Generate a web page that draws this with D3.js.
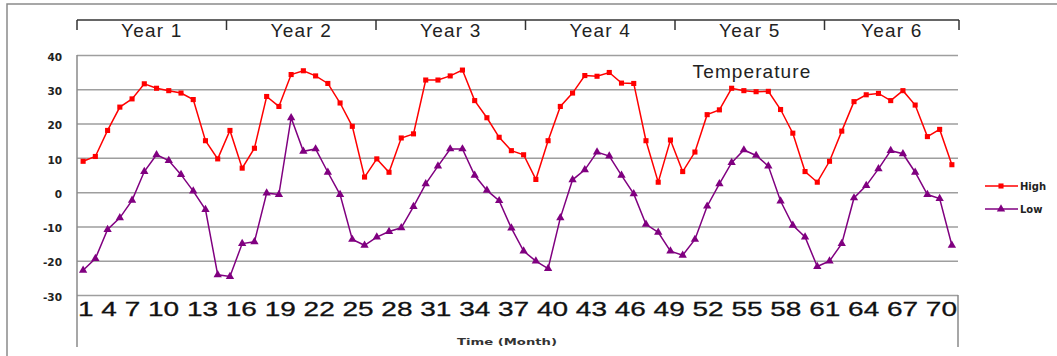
<!DOCTYPE html>
<html>
<head>
<meta charset="utf-8">
<script src="https://cdn.jsdelivr.net/npm/d3@7/dist/d3.min.js"></script>
<style>
    html, body { margin: 0; padding: 0; background: #fff; }
    svg { display: block; }
</style>
</head>
<body>
<svg id="chart" width="1057" height="356"></svg>
<script>
// monthly highs / lows (6 years x 12 months)
var high = [9.0, 10.4, 18.0, 24.8, 27.2, 31.6, 30.3, 29.6, 28.9, 27.0, 15.0, 9.7,
    18.0, 7.0, 12.8, 27.9, 25.0, 34.3, 35.4, 33.9, 31.7, 26.0, 19.2, 4.4,
    9.7, 5.8, 15.8, 17.0, 32.7, 32.7, 33.9, 35.6, 26.7, 21.7, 16.0, 12.1,
    10.9, 3.7, 15.0, 25.0, 28.9, 34.0, 33.8, 34.9, 31.8, 31.7, 15.0, 2.9,
    15.2, 6.0, 11.7, 22.6, 24.0, 30.3, 29.6, 29.3, 29.4, 24.1, 17.2, 6.0,
    2.9, 9.0, 17.8, 26.4, 28.4, 28.8, 26.7, 29.6, 25.4, 16.2, 18.3, 8.0];
var low = [-22.8, -19.4, -10.9, -7.5, -2.4, 6.0, 10.9, 9.2, 5.1, 0.3, -5.1, -24.1,
    -24.6, -15.0, -14.5, -0.3, -0.7, 21.7, 11.9, 12.6, 5.8, -0.7, -13.8, -15.5,
    -13.1, -11.5, -10.4, -4.2, 2.4, 7.6, 12.6, 12.6, 4.9, 0.5, -2.5, -10.5,
    -17.2, -20.1, -22.3, -7.5, 3.6, 6.5, 11.7, 10.5, 4.9, -0.5, -9.4, -11.7,
    -17.2, -18.4, -13.8, -4.1, 2.4, 8.6, 12.3, 10.7, 7.6, -2.6, -9.7, -13.1,
    -21.7, -20.1, -15.0, -1.7, 1.9, 6.8, 12.1, 11.2, 5.8, -0.7, -1.9, -15.5];
var years = ['Year 1', 'Year 2', 'Year 3', 'Year 4', 'Year 5', 'Year 6'];
var tickLabels = ['1', '4', '7', '10', '13', '16', '19', '22', '25', '28', '31', '34',
    '37', '40', '43', '46', '49', '52', '55', '58', '61', '64', '67', '70'];
var yTicks = [40, 30, 20, 10, 0, -10, -20, -30];
var seriesNames = ['High', 'Low'];

var months = high.map(function (d, i) { return i + 1; });

var svg = d3.select('#chart');
var plotLeft = 77, plotRight = 958, plotTop = 55, plotBottom = 295;
var sans = 'Liberation Sans, Arial, sans-serif';
var small = 'DejaVu Sans, Verdana, sans-serif';

var x = d3.scalePoint().domain(months).range([plotLeft, plotRight]).padding(0.5);
var y = d3.scaleLinear().domain([-30, 40]).range([plotBottom, plotTop]);
// header row is a little wider than the plot, last cell cut at the plot edge
var yearX = d3.scaleLinear().domain([0, years.length]).range([plotLeft, 974]);
function yearPos(i) { return Math.min(yearX(i), plotRight + 1); }

// outer frame
svg.append('path')
    .attr('d', 'M7,356V4H1057')
    .attr('fill', 'none')
    .attr('stroke', '#8a8a8a')
    .attr('stroke-width', 1.5);

// year header
svg.append('line')
    .attr('x1', plotLeft).attr('x2', plotRight + 1)
    .attr('y1', 20).attr('y2', 20)
    .attr('stroke', '#333').attr('stroke-width', 1.5);

svg.selectAll('.year-tick')
    .data(d3.range(years.length + 1))
    .enter().append('line')
    .attr('class', 'year-tick')
    .attr('x1', yearPos).attr('x2', yearPos)
    .attr('y1', 20).attr('y2', 30)
    .attr('stroke', '#333').attr('stroke-width', 1.5);

svg.selectAll('.year-label')
    .data(years)
    .enter().append('text')
    .attr('class', 'year-label')
    .attr('x', function (d, i) { return (yearPos(i) + yearPos(i + 1)) / 2; })
    .attr('y', 37)
    .attr('text-anchor', 'middle')
    .attr('font-family', sans)
    .attr('font-size', 19)
    .attr('letter-spacing', 1.2)
    .attr('fill', '#222')
    .text(function (d) { return d; });

// y axis + gridlines (plain hyphen for negatives, as in the original)
var yAxis = d3.axisLeft(y)
    .tickValues(yTicks)
    .tickFormat(function (d) { return String(d); })
    .tickSize(-(plotRight - plotLeft))
    .tickPadding(15);
var gy = svg.append('g').attr('transform', 'translate(' + plotLeft + ',0)').call(yAxis);
gy.select('.domain').remove();
gy.selectAll('.tick line').attr('stroke', '#9e9e9e').attr('stroke-width', 1.5);
gy.selectAll('.tick text')
    .attr('font-family', small)
    .attr('font-size', 10.5)
    .attr('font-weight', 'bold')
    .attr('fill', '#222')
    .attr('dy', '0.5em');

// plot frame pieces
svg.append('line')
    .attr('x1', plotLeft).attr('x2', plotLeft).attr('y1', plotTop).attr('y2', 347)
    .attr('stroke', '#8a8a8a').attr('stroke-width', 1.5);
svg.append('line')
    .attr('x1', plotRight).attr('x2', plotRight).attr('y1', plotBottom).attr('y2', 347)
    .attr('stroke', '#8a8a8a').attr('stroke-width', 1.5);

// category labels, stretched across the axis like the original
var xr = x.range();
svg.append('text')
    .attr('x', xr[0] + 1)
    .attr('y', 316)
    .attr('font-family', sans)
    .attr('font-size', 20)
    .attr('fill', '#111')
    .attr('stroke', '#111')
    .attr('stroke-width', 0.3)
    .attr('textLength', xr[1] - xr[0] - 2)
    .attr('lengthAdjust', 'spacingAndGlyphs')
    .text(tickLabels.join(' '));

svg.append('text')
    .attr('x', 457).attr('y', 345)
    .attr('font-family', small)
    .attr('font-size', 9)
    .attr('font-weight', 'bold')
    .attr('fill', '#333')
    .attr('textLength', 100)
    .attr('lengthAdjust', 'spacingAndGlyphs')
    .text('Time (Month)');

// title
svg.append('text')
    .attr('x', 752).attr('y', 78)
    .attr('text-anchor', 'middle')
    .attr('font-family', sans)
    .attr('font-size', 19)
    .attr('letter-spacing', 1.1)
    .attr('fill', '#222')
    .text('Temperature');

// series
var series = [
    {name: seriesNames[0], values: high, color: '#ff0000', symbol: d3.symbolSquare, size: 26},
    {name: seriesNames[1], values: low, color: '#800080', symbol: d3.symbolTriangle, size: 30}
];

var line = d3.line()
    .x(function (d, i) { return x(months[i]); })
    .y(function (d) { return y(d); });

series.forEach(function (s) {
    svg.append('path')
        .datum(s.values)
        .attr('fill', 'none')
        .attr('stroke', s.color)
        .attr('stroke-width', 1.5)
        .attr('d', line);

    svg.append('g').selectAll('path')
        .data(s.values)
        .enter().append('path')
        .attr('d', d3.symbol().type(s.symbol).size(s.size))
        .attr('transform', function (d, i) {
            return 'translate(' + x(months[i]) + ',' + y(d) + ')';
        })
        .attr('fill', s.color);
});

// legend
var legend = svg.append('g').attr('transform', 'translate(985,186)');
var item = legend.selectAll('g')
    .data(series)
    .enter().append('g')
    .attr('transform', function (d, i) { return 'translate(0,' + i * 23 + ')'; });
item.append('line')
    .attr('x1', 0).attr('x2', 33)
    .attr('stroke', function (d) { return d.color; })
    .attr('stroke-width', 1.5);
item.append('path')
    .attr('d', function (d) { return d3.symbol().type(d.symbol).size(d.size)(); })
    .attr('transform', 'translate(16,0)')
    .attr('fill', function (d) { return d.color; });
item.append('text')
    .attr('x', 35)
    .attr('dy', '0.35em')
    .attr('font-family', small)
    .attr('font-size', 10)
    .attr('font-weight', 'bold')
    .attr('fill', '#222')
    .text(function (d) { return d.name; });
</script>
</body>
</html>
